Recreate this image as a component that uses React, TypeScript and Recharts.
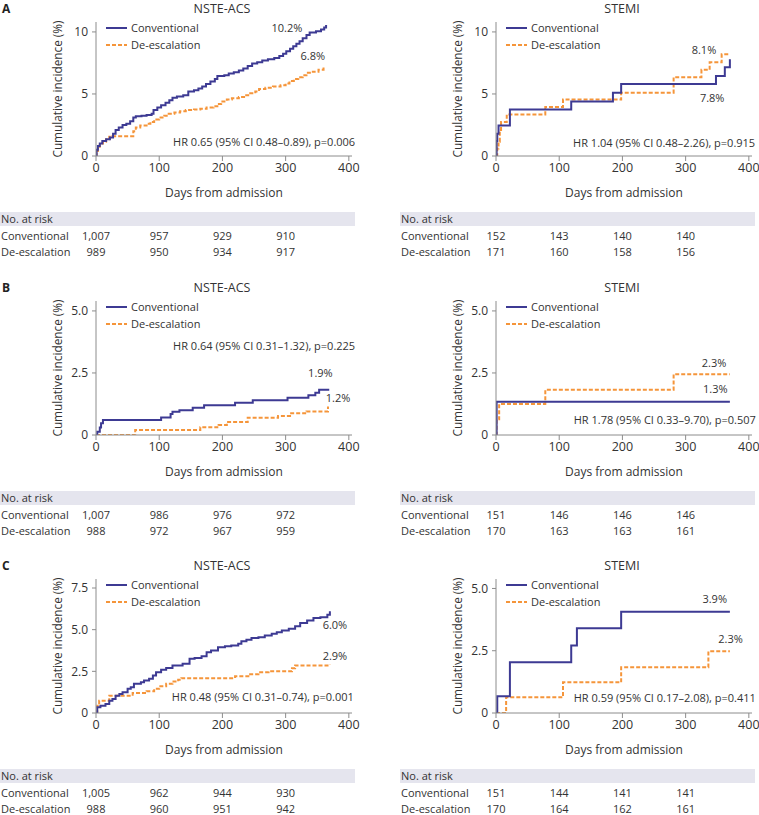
import React from "react";
import { LineChart, Line, XAxis, YAxis, ReferenceDot, Legend } from "recharts";

// [day, cumulative incidence %]
const aNsteConv = [[0,0],[1,0.5],[3,0.8],[6,1.0],[10,1.2],[16,1.35],[22,1.5],[27,1.8],[31,2.1],[36,2.3],[42,2.5],[48,2.6],[54,2.8],[59,3.1],[63,3.2],[72,3.25],[80,3.3],[88,3.4],[91,3.7],[97,3.9],[103,4.1],[110,4.3],[116,4.5],[121,4.7],[128,4.8],[138,4.9],[146,5.2],[155,5.3],[162,5.45],[168,5.6],[174,5.8],[181,6.0],[188,6.2],[192,6.45],[203,6.5],[210,6.65],[218,6.75],[226,6.9],[233,7.05],[240,7.25],[247,7.45],[255,7.55],[263,7.7],[272,7.8],[282,7.9],[290,8.05],[296,8.25],[301,8.45],[307,8.65],[312,8.85],[317,9.05],[322,9.25],[327,9.5],[333,9.75],[338,9.95],[348,10.05],[356,10.2],[361,10.35],[364,10.55]];
const aNsteDeesc = [[0,0],[1,0.4],[3,0.75],[6,1.0],[11,1.15],[16,1.35],[21,1.55],[26,1.6],[56,1.6],[59,2.0],[63,2.3],[70,2.45],[80,2.6],[86,2.75],[92,2.95],[100,3.1],[108,3.25],[115,3.4],[124,3.5],[133,3.6],[142,3.7],[155,3.75],[165,3.8],[175,3.9],[186,4.0],[192,4.2],[198,4.4],[207,4.55],[215,4.65],[226,4.75],[236,4.9],[244,5.05],[252,5.2],[258,5.4],[268,5.5],[280,5.6],[292,5.7],[300,5.85],[306,6.05],[313,6.2],[320,6.35],[327,6.5],[333,6.7],[343,6.8],[352,6.95],[360,7.05],[364,7.1]];
const aStemiConv = [[0,0],[1,1.2],[2,1.8],[4,2.45],[22,3.75],[119,4.4],[185,5.1],[198,5.8],[348,6.45],[362,7.15],[370,7.8]];
const aStemiDeesc = [[0,0],[2,0.6],[4,1.15],[6,2.1],[8,2.75],[17,3.35],[78,3.95],[106,4.55],[198,5.1],[281,6.35],[325,6.95],[338,7.55],[357,8.2],[370,8.2]];

const bNsteConv = [[0,0],[2,0.13],[6,0.3],[8,0.47],[11,0.6],[103,0.71],[118,0.85],[121,0.94],[132,1.0],[153,1.1],[171,1.2],[220,1.3],[248,1.4],[303,1.5],[336,1.6],[347,1.7],[353,1.82],[369,1.82]];
const bNsteDeesc = [[0,0],[62,0.2],[165,0.31],[194,0.4],[207,0.52],[240,0.7],[288,0.77],[307,0.88],[333,0.95],[367,1.15]];
const bStemiConv = [[0,0],[1,1.34],[370,1.34]];
const bStemiDeesc = [[0,0],[1,0.63],[5,1.25],[78,1.82],[281,2.45],[370,2.45]];

const cNsteConv = [[0,0],[2,0.34],[7,0.44],[15,0.54],[21,0.74],[26,0.84],[31,1.04],[37,1.14],[42,1.25],[50,1.45],[55,1.55],[60,1.75],[71,1.85],[76,1.95],[84,2.05],[90,2.25],[95,2.45],[103,2.6],[111,2.7],[121,2.85],[137,2.95],[148,3.25],[156,3.3],[167,3.4],[175,3.65],[182,3.75],[193,3.95],[204,4.0],[214,4.05],[225,4.15],[230,4.3],[238,4.4],[246,4.5],[257,4.55],[267,4.65],[278,4.75],[286,4.85],[294,4.95],[305,5.05],[315,5.2],[323,5.4],[334,5.55],[344,5.7],[355,5.75],[366,5.9],[370,6.1]];
const cNsteDeesc = [[0,0],[2,0.44],[5,0.74],[21,1.04],[58,1.2],[80,1.3],[92,1.45],[100,1.6],[111,1.75],[121,1.89],[130,2.0],[135,2.09],[220,2.2],[241,2.33],[257,2.45],[273,2.51],[310,2.69],[315,2.85],[370,2.9]];
const cStemiConv = [[0,0],[2,0.67],[22,2.04],[119,2.71],[128,3.4],[198,4.07],[370,4.07]];
const cStemiDeesc = [[0,0],[16,0.63],[106,1.23],[198,1.84],[336,2.48],[370,2.48]];

const seriesNames = ["Conventional", "De-escalation"];
const riskDays = [0, 100, 200, 300];
const xTicks = [0, 100, 200, 300, 400];

const aNsteRisk = [["1,007", "957", "929", "910"], ["989", "950", "934", "917"]];
const aStemiRisk = [["152", "143", "140", "140"], ["171", "160", "158", "156"]];
const bNsteRisk = [["1,007", "986", "976", "972"], ["988", "972", "967", "959"]];
const bStemiRisk = [["151", "146", "146", "146"], ["170", "163", "163", "161"]];
const cNsteRisk = [["1,005", "962", "944", "930"], ["988", "960", "951", "942"]];
const cStemiRisk = [["151", "144", "141", "141"], ["170", "164", "162", "161"]];

const NAVY = "#3d3a93";
const ORANGE = "#f5953a";
const TEXT = "#333";
const AXIS = "#8c8c8c";
const FONT = "'Open Sans', 'Noto Sans', sans-serif";

const CHART_W = 360;
const CHART_H = 205;
const M = { top: 22, right: 8, bottom: 0, left: 40 };
const Y_W = 56;
const X_MAX = 405;
const PLOT_L = M.left + Y_W;
const PLOT_W = CHART_W - PLOT_L - M.right;

const toRows = (pts: number[][]) => pts.map(([day, v]) => ({ day, v }));

const panels = [
  { left: 0, top: 0, letter: "A", title: "NSTE-ACS", conv: aNsteConv, deesc: aNsteDeesc, yMax: 10.8, yTicks: [0, 5, 10], dec: false,
    pct: [{ day: 302, val: 10.3, text: "10.2%" }, { day: 343, val: 8.06, text: "6.8%" }],
    hr: { day: 410, val: 1.16, text: "HR 0.65 (95% CI 0.48\u20130.89), p=0.006", pos: "left" }, risk: aNsteRisk },
  { left: 400, top: 0, letter: "", title: "STEMI", conv: aStemiConv, deesc: aStemiDeesc, yMax: 10.8, yTicks: [0, 5, 10], dec: false,
    pct: [{ day: 329, val: 8.5, text: "8.1%" }, { day: 342, val: 4.65, text: "7.8%" }],
    hr: { day: 410, val: 1.08, text: "HR 1.04 (95% CI 0.48\u20132.26), p=0.915", pos: "left" }, risk: aStemiRisk },
  { left: 0, top: 279, letter: "B", title: "NSTE-ACS", conv: bNsteConv, deesc: bNsteDeesc, yMax: 5.4, yTicks: [0, 2.5, 5], dec: true,
    pct: [{ day: 355, val: 2.51, text: "1.9%" }, { day: 383, val: 1.48, text: "1.2%" }],
    hr: { day: 122, val: 3.6, text: "HR 0.64 (95% CI 0.31\u20131.32), p=0.225", pos: "right" }, risk: bNsteRisk },
  { left: 400, top: 279, letter: "", title: "STEMI", conv: bStemiConv, deesc: bStemiDeesc, yMax: 5.4, yTicks: [0, 2.5, 5], dec: true,
    pct: [{ day: 345, val: 2.89, text: "2.3%" }, { day: 347, val: 1.84, text: "1.3%" }],
    hr: { day: 411, val: 0.6, text: "HR 1.78 (95% CI 0.33\u20139.70), p=0.507", pos: "left" }, risk: bStemiRisk },
  { left: 0, top: 557, letter: "C", title: "NSTE-ACS", conv: cNsteConv, deesc: cNsteDeesc, yMax: 8.04, yTicks: [0, 2.5, 5, 7.5], dec: true,
    pct: [{ day: 378, val: 5.3, text: "6.0%" }, { day: 378, val: 3.42, text: "2.9%" }],
    hr: { day: 408, val: 0.95, text: "HR 0.48 (95% CI 0.31\u20130.74), p=0.001", pos: "left" }, risk: cNsteRisk },
  { left: 400, top: 557, letter: "", title: "STEMI", conv: cStemiConv, deesc: cStemiDeesc, yMax: 5.38, yTicks: [0, 2.5, 5], dec: true,
    pct: [{ day: 346, val: 4.57, text: "3.9%" }, { day: 371, val: 2.96, text: "2.3%" }],
    hr: { day: 411, val: 0.58, text: "HR 0.59 (95% CI 0.17\u20132.08), p=0.411", pos: "left" }, risk: cStemiRisk },
];

const LegendBox = () => (
  <div style={{ fontSize: 11, color: TEXT, fontFamily: FONT, lineHeight: "17px" }}>
    {seriesNames.map((name, i) => (
      <div key={name} style={{ display: "flex", alignItems: "center" }}>
        <svg width={25} height={4} style={{ display: "block" }}>
          <line x1={0} x2={21} y1={2} y2={2} stroke={i === 0 ? NAVY : ORANGE} strokeWidth={2}
            strokeDasharray={i === 0 ? undefined : "4 2"} />
        </svg>
        <span>{name}</span>
      </div>
    ))}
  </div>
);

const xPx = (day: number) => PLOT_L + (day / X_MAX) * PLOT_W;

const Panel = ({ p }: { p: any }) => {
  const fmt = (v: number) => (v === 0 ? "0" : p.dec ? v.toFixed(1) : String(v));
  return (
    <div style={{ position: "absolute", left: p.left, top: p.top, width: 359, height: 270, fontFamily: FONT, color: TEXT }}>
      <LineChart width={CHART_W} height={CHART_H} margin={M} style={{ position: "absolute", left: 0, top: 0 }}>
        <XAxis dataKey="day" type="number" domain={[0, X_MAX]} ticks={xTicks} allowDataOverflow
          height={49} stroke={AXIS} tickSize={5} tickMargin={2}
          tick={{ fill: TEXT, fontSize: 12.5, fontFamily: FONT }}
          label={{ value: "Days from admission", position: "insideBottom", offset: 8, fill: TEXT, fontSize: 12, fontFamily: FONT }} />
        <YAxis type="number" domain={[0, p.yMax]} ticks={p.yTicks} width={Y_W} stroke={AXIS} tickSize={4} tickMargin={4}
          tickFormatter={fmt} allowDataOverflow
          tick={{ fill: TEXT, fontSize: 12, fontFamily: FONT }}
          label={{ value: "Cumulative incidence (%)", angle: -90, position: "insideLeft", offset: 18, fill: TEXT, fontSize: 11.8, fontFamily: FONT, style: { textAnchor: "middle" } }} />
        <Legend layout="vertical" align="center" verticalAlign="middle" content={() => <LegendBox />}
          wrapperStyle={{ top: 19, left: 106, width: "auto" }} />
        <Line data={toRows(p.deesc)} dataKey="v" type="stepAfter" stroke={ORANGE} strokeWidth={2}
          strokeDasharray="4 2" dot={false} isAnimationActive={false} />
        <Line data={toRows(p.conv)} dataKey="v" type="stepAfter" stroke={NAVY} strokeWidth={2}
          dot={false} isAnimationActive={false} />
        {p.pct.map((l: any) => (
          <ReferenceDot key={l.text + l.day} x={l.day} y={l.val} r={0} ifOverflow="visible" stroke="none" fill="none"
            label={{ value: l.text, position: "center", fill: TEXT, fontSize: 11, fontFamily: FONT }} />
        ))}
        <ReferenceDot x={p.hr.day} y={p.hr.val} r={0} ifOverflow="visible" stroke="none" fill="none"
          label={{ value: p.hr.text, position: p.hr.pos, offset: 0, fill: TEXT, fontSize: 11, fontFamily: FONT }} />
      </LineChart>
      {p.letter && (
        <div style={{ position: "absolute", left: 2, top: 0, fontSize: 12, fontWeight: "bold", lineHeight: "normal", color: "#222" }}>{p.letter}</div>
      )}
      <div style={{ position: "absolute", left: PLOT_L, width: PLOT_W - 4, top: 0, textAlign: "center", fontSize: 12.5, lineHeight: "normal" }}>{p.title}</div>
      <div style={{ position: "absolute", left: 0, top: 212, width: 355, height: 14, background: "#e5e5ee", fontSize: 11, lineHeight: "14px", paddingLeft: 1, boxSizing: "border-box" }}>No. at risk</div>
      {seriesNames.map((name, r) => (
        <div key={name} style={{ position: "absolute", left: 0, top: 229 + r * 16, width: 355, height: 14, fontSize: 11, lineHeight: "14px" }}>
          <span style={{ position: "absolute", left: 1 }}>{name}</span>
          {p.risk[r].map((n: string, i: number) => (
            <span key={i} style={{ position: "absolute", left: xPx(riskDays[i]) - 20, width: 40, textAlign: "center" }}>{n}</span>
          ))}
        </div>
      ))}
    </div>
  );
};

export default function App() {
  return (
    <div style={{ position: "absolute", left: 0, top: 0, width: 759, height: 815, background: "#fff" }}>
      {panels.map((p, i) => (
        <Panel key={i} p={p} />
      ))}
    </div>
  );
}
